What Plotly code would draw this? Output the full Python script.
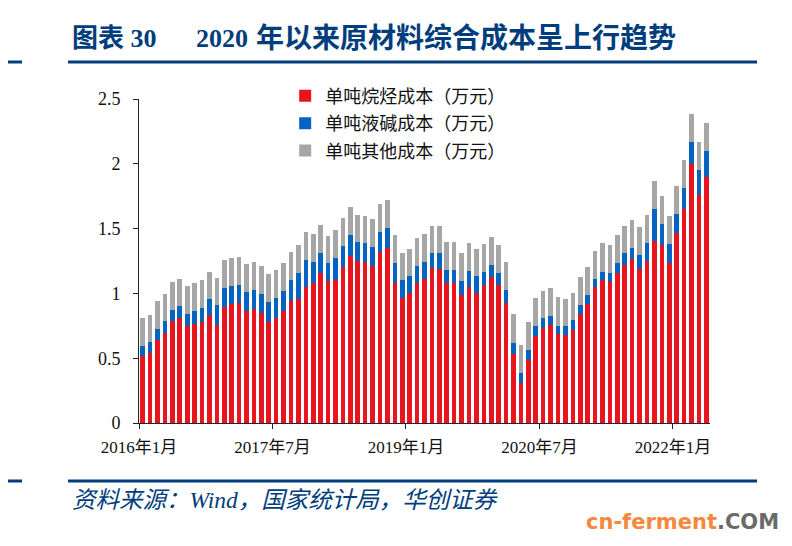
import plotly.graph_objects as go
import pandas as pd

# Monthly categories 2016-01 .. 2022-05
months = [p.strftime("%Y-%m") for p in pd.period_range("2016-01", "2022-05", freq="M")]

# 单吨烷烃成本 (red, bottom)
alkane = [0.514, 0.540, 0.642, 0.694, 0.784, 0.807, 0.750, 0.766, 0.779, 0.832, 0.755, 0.894,
          0.915, 0.925, 0.863, 0.879, 0.848, 0.776, 0.814, 0.863, 0.940, 0.956, 1.048, 1.077,
          1.161, 1.095, 1.107, 1.202, 1.292, 1.249, 1.246, 1.215, 1.323, 1.349, 1.077, 0.961,
          1.002, 1.079, 1.110, 1.197, 1.192, 1.079, 1.079, 0.989, 1.053, 1.002, 1.061, 1.125,
          1.064, 0.928, 0.534, 0.308, 0.486, 0.671, 0.730, 0.753, 0.683, 0.676, 0.714, 0.838,
          0.917, 1.046, 1.102, 1.087, 1.156, 1.223, 1.262, 1.190, 1.251, 1.403, 1.372, 1.238,
          1.465, 1.650, 1.996, 1.757, 1.901]

# 单吨液碱成本 (blue, middle)
caustic = [0.077, 0.082, 0.083, 0.090, 0.090, 0.092, 0.093, 0.095, 0.107, 0.124, 0.152, 0.149,
           0.144, 0.141, 0.149, 0.149, 0.151, 0.154, 0.147, 0.152, 0.165, 0.205, 0.211, 0.169,
           0.147, 0.136, 0.165, 0.165, 0.155, 0.144, 0.141, 0.144, 0.152, 0.154, 0.154, 0.139,
           0.129, 0.134, 0.131, 0.111, 0.116, 0.103, 0.103, 0.108, 0.121, 0.131, 0.108, 0.098,
           0.097, 0.100, 0.085, 0.080, 0.079, 0.079, 0.077, 0.072, 0.067, 0.069, 0.077, 0.072,
           0.072, 0.067, 0.067, 0.074, 0.075, 0.085, 0.092, 0.108, 0.139, 0.252, 0.167, 0.144,
           0.149, 0.167, 0.173, 0.198, 0.201]

# 单吨其他成本 (gray, top)
other = [0.216, 0.213, 0.213, 0.213, 0.215, 0.214, 0.216, 0.216, 0.216, 0.213, 0.213, 0.216,
         0.213, 0.216, 0.216, 0.216, 0.214, 0.219, 0.216, 0.218, 0.213, 0.214, 0.216, 0.213,
         0.216, 0.213, 0.216, 0.213, 0.218, 0.213, 0.214, 0.213, 0.213, 0.216, 0.216, 0.213,
         0.213, 0.213, 0.216, 0.213, 0.213, 0.216, 0.216, 0.216, 0.216, 0.213, 0.213, 0.216,
         0.216, 0.213, 0.219, 0.213, 0.216, 0.214, 0.213, 0.213, 0.219, 0.213, 0.214, 0.213,
         0.213, 0.215, 0.218, 0.216, 0.216, 0.213, 0.213, 0.213, 0.216, 0.216, 0.216, 0.216,
         0.215, 0.213, 0.213, 0.214, 0.213]

series_names = ["单吨烷烃成本（万元）", "单吨液碱成本（万元）", "单吨其他成本（万元）"]
tick_months = ["2016-01", "2017-07", "2019-01", "2020-07", "2022-01"]
tick_labels = ["2016年1月", "2017年7月", "2019年1月", "2020年7月", "2022年1月"]
y_ticks = [0, 0.5, 1, 1.5, 2, 2.5]
y_tick_text = ["0", "0.5", "1", "1.5", "2", "2.5"]

colors = ["#e8141e", "#0563c1", "#a6a6a6"]
NAVY = "#003d7c"
CJK = "Liberation Serif, Noto Sans CJK SC"

x = list(range(len(months)))
fig = go.Figure()
for i, (name, vals) in enumerate(zip(series_names, [alkane, caustic, other])):
    fig.add_trace(go.Bar(x=x, y=vals, name=name, marker=dict(color=colors[i], line=dict(width=0)),
                         width=0.62, legendgroup=str(i)))

tickvals = [months.index(m) - 0.5 for m in tick_months]

# page has an 8px body margin; plot area spans page px x 139..710, y 99..423
fig.update_layout(
    width=792, height=546,
    barmode="stack",
    paper_bgcolor="white", plot_bgcolor="white",
    margin=dict(l=131, r=90, t=91, b=131),
    showlegend=True,
    legend=dict(x=0.256, y=1.066, xanchor="left", yanchor="top",
                font=dict(family="Noto Sans CJK SC", size=18, color="#111"),
                bgcolor="rgba(0,0,0,0)", traceorder="grouped", tracegroupgap=1,
                itemwidth=30),
    font=dict(family=CJK, color="#111"),
)
fig.update_xaxes(range=[-0.5, len(months) - 0.5], tickmode="array", tickvals=tickvals,
                 ticktext=tick_labels, showline=True, linecolor="#222", linewidth=1,
                 ticks="outside", ticklen=5, tickcolor="#222", showgrid=False, zeroline=False,
                 tickfont=dict(family=CJK, size=17, color="#111"), ticklabelstandoff=4)
fig.update_yaxes(range=[0, 2.5], tickmode="array", tickvals=y_ticks, ticktext=y_tick_text,
                 showline=True, linecolor="#222", linewidth=1, ticks="outside", ticklen=5,
                 tickcolor="#222", showgrid=False, zeroline=False,
                 tickfont=dict(family="Liberation Serif", size=18, color="#111"),
                 ticklabelstandoff=9)

def px_x(p):
    return (p - 139) / 571.0

def px_y(p):
    return (423 - p) / 324.0

# Title
fig.add_annotation(x=px_x(70), y=px_y(38), xref="paper", yref="paper", xanchor="left",
                   yanchor="middle", showarrow=False, text="<b>图表 30</b>",
                   font=dict(family=CJK, size=26, color=NAVY))
fig.add_annotation(x=px_x(194), y=px_y(38), xref="paper", yref="paper", xanchor="left",
                   yanchor="middle", showarrow=False, text="<b>2020</b>",
                   font=dict(family=CJK, size=26, color=NAVY))
fig.add_annotation(x=px_x(254), y=px_y(38), xref="paper", yref="paper", xanchor="left",
                   yanchor="middle", showarrow=False,
                   text="<b>年以来原材料综合成本呈上行趋势</b>",
                   font=dict(family=CJK, size=28, color=NAVY))
# Source
fig.add_annotation(x=px_x(70), y=px_y(500), xref="paper", yref="paper", xanchor="left",
                   yanchor="middle", showarrow=False,
                   text="<i>资料来源：Wind，国家统计局，华创证券</i>",
                   font=dict(family=CJK, size=23.5, color=NAVY))
# Watermark
fig.add_annotation(x=px_x(781), y=px_y(522), xref="paper", yref="paper", xanchor="right",
                   yanchor="middle", showarrow=False,
                   text='<b><span style="color:#f5883c">cn-ferment</span><span style="color:#6a6a6a">.COM</span></b>',
                   font=dict(family="DejaVu Sans", size=21))

# Rules
for py in (62, 481):
    fig.add_shape(type="line", xref="paper", yref="paper", x0=px_x(0), x1=px_x(22),
                  y0=px_y(py), y1=px_y(py), line=dict(color=NAVY, width=3))
    fig.add_shape(type="line", xref="paper", yref="paper", x0=px_x(68), x1=px_x(757),
                  y0=px_y(py), y1=px_y(py), line=dict(color=NAVY, width=3))

fig.write_html("out.html")
